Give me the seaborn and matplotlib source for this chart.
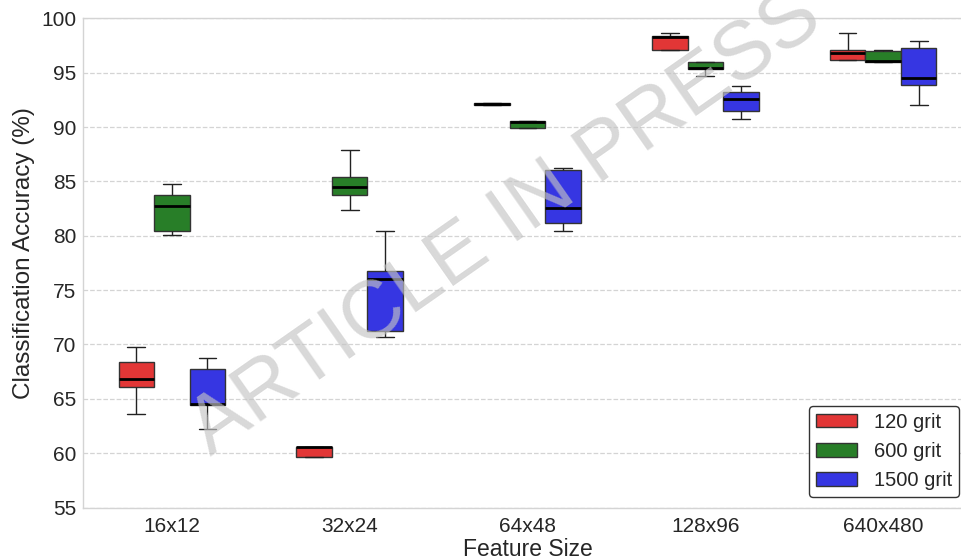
import numpy as np
import pandas as pd
import matplotlib
matplotlib.use("Agg")
import matplotlib.pyplot as plt
import seaborn as sns

# Feature sizes and grit levels
feature_sizes = ["16x12", "32x24", "64x48", "128x96", "640x480"]
grits = ["120 grit", "600 grit", "1500 grit"]

# Per-run accuracies (%) for each feature size, one list per grit
acc_120 = [
    [63.6, 66.1, 66.85, 68.35, 69.8],
    [59.6, 59.6, 60.55, 60.6, 60.6],
    [92.0, 92.0, 92.15, 92.25, 92.25],
    [97.1, 97.1, 98.3, 98.4, 98.65],
    [96.15, 96.15, 96.8, 97.1, 98.65],
]
acc_600 = [
    [80.05, 80.45, 82.75, 83.75, 84.75],
    [82.4, 83.75, 84.45, 85.4, 87.85],
    [89.95, 89.95, 90.5, 90.55, 90.55],
    [94.65, 95.35, 95.4, 96.0, 96.0],
    [96.0, 96.0, 96.05, 96.95, 97.1],
]
acc_1500 = [
    [62.2, 64.45, 64.5, 67.7, 68.75],
    [70.7, 71.25, 76.05, 76.75, 80.45],
    [80.45, 81.2, 82.55, 86.0, 86.2],
    [90.75, 91.5, 92.55, 93.2, 93.75],
    [92.0, 93.9, 94.5, 97.25, 97.95],
]

y_ticks = [55, 60, 65, 70, 75, 80, 85, 90, 95, 100]
colors = ["#E23636", "#287E28", "#3636E2"]

rows = []
for grit, series in zip(grits, [acc_120, acc_600, acc_1500]):
    for fs, vals in zip(feature_sizes, series):
        for v in vals:
            rows.append({"Feature Size": fs, "Grit": grit, "Accuracy": v})
df = pd.DataFrame(rows)

sns.set_style("whitegrid")
plt.rcParams["font.family"] = ["Liberation Sans", "DejaVu Sans"]

fig = plt.figure(figsize=(9.61, 5.6), dpi=100)
ax = fig.add_axes([83 / 961, 1 - 507.5 / 560, (972 - 83) / 961, (507.5 - 18.3) / 560])

sns.boxplot(
    data=df, x="Feature Size", y="Accuracy", hue="Grit",
    order=feature_sizes, hue_order=grits, palette=colors,
    saturation=1, width=0.6, gap=0, whis=(0, 100),
    linecolor="#333333", linewidth=1.0, fliersize=0,
    medianprops=dict(color="black", linewidth=2.0),
    whiskerprops=dict(color="#222222", linewidth=1.0),
    capprops=dict(color="#222222", linewidth=1.0),
    ax=ax,
)

ax.set_xlim(-0.5, 4.5)
ax.set_ylim(55, 100)
ax.set_yticks(y_ticks)
ax.tick_params(axis="both", labelsize=15, colors="#262626", length=0)
ax.tick_params(axis="y", pad=5)
ax.tick_params(axis="x", pad=7)
ax.set_xlabel("Feature Size", fontsize=16.5, color="#262626", labelpad=1)
ax.set_ylabel("Classification Accuracy (%)", fontsize=17.5, color="#262626")
ax.yaxis.set_label_coords(-0.054, 0.52)

ax.grid(axis="x", visible=False)
ax.grid(axis="y", linestyle="--", color="#d4d4d4", linewidth=0.9)
for side in ["left", "bottom", "top", "right"]:
    ax.spines[side].set_color("#d4d4d4")
    ax.spines[side].set_linewidth(1.0)

handles, labels = ax.get_legend_handles_labels()
leg = ax.legend(
    handles, labels, fontsize=14.5, loc="lower right",
    bbox_to_anchor=(959 / 961, 1 - 497 / 560), bbox_transform=fig.transFigure,
    borderaxespad=0, frameon=True, fancybox=True,
    handlelength=2.0, handleheight=0.65,
    labelspacing=0.5, borderpad=0.35, handletextpad=0.85,
)
leg.get_frame().set_edgecolor("#333333")
leg.get_frame().set_linewidth(1.0)
leg.get_frame().set_alpha(1)

fig.text(
    0.526, 0.60, "ARTICLE IN PRESS", rotation=35, fontsize=59,
    color="#c4c4c4", alpha=0.65, ha="center", va="center",
    rotation_mode="anchor", zorder=10,
)

fig.savefig("out.png", dpi=100)
